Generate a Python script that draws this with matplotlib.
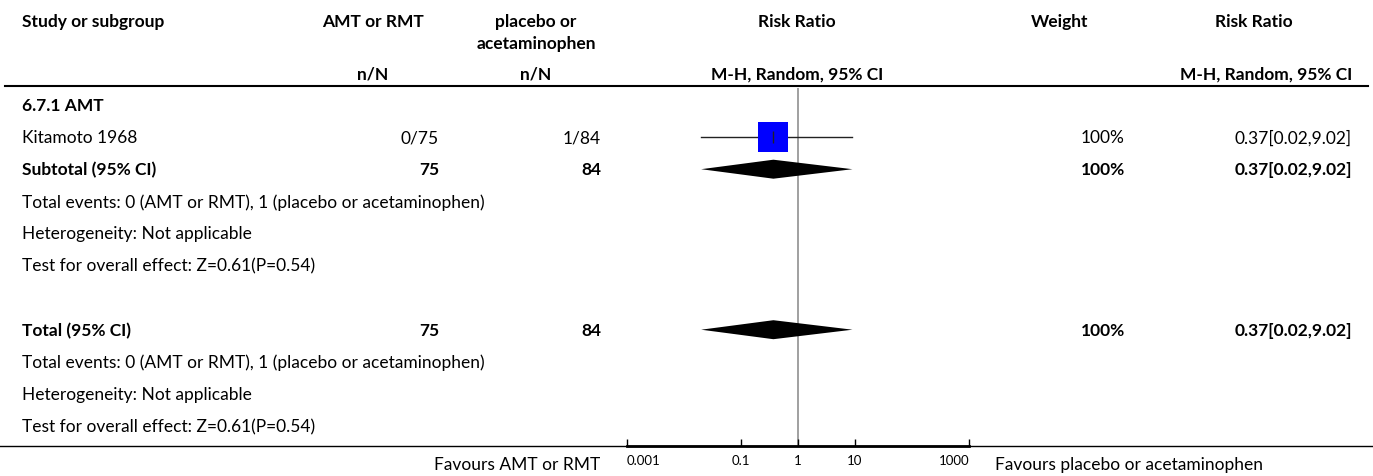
import matplotlib
matplotlib.use("Agg")
import matplotlib.pyplot as plt
import numpy as np

plt.rcParams['font.family'] = ['Lato', 'DejaVu Sans']

# study data
studies = ["Kitamoto 1968"]
events_amt = [0]
total_amt = [75]
events_ctl = [1]
total_ctl = [84]
rr = [0.37]
ci_low = [0.02]
ci_high = [9.02]
weights = [100]

# pooled results (subtotal and overall are the same single study)
pooled_rr = 0.37
pooled_low = 0.02
pooled_high = 9.02
pooled_weight = 100

subgroup = "6.7.1 AMT"
total_events_text = "Total events: 0 (AMT or RMT), 1 (placebo or acetaminophen)"
heterogeneity_text = "Heterogeneity: Not applicable"
overall_effect_text = "Test for overall effect: Z=0.61(P=0.54)"

tick_values = [0.001, 0.1, 1, 10, 1000]
tick_labels = ["0.001", "0.1", "1", "10", "1000"]
label_left = "Favours AMT or RMT"
label_right = "Favours placebo or acetaminophen"

W, H = 1373, 477
fig = plt.figure(figsize=(W / 100, H / 100), dpi=100)

# pixel-space axes for the table text and rules
ax = fig.add_axes([0, 0, 1, 1])
ax.set_xlim(0, W)
ax.set_ylim(H, 0)
ax.axis("off")

fs = 12.5
x_study = 22
x_amt_c, x_amt_r = 373, 439
x_ctl_c, x_ctl_r = 536, 601
x_plot_c = 797
x_w_c, x_w_r = 1060, 1125
x_rr_c, x_rr_r = 1254, 1352


def txt(x, y, s, ha="left", bold=False, size=fs):
    ax.text(x, y, s, ha=ha, va="center", fontsize=size,
            fontweight="bold" if bold else "normal", color="black")


# header
txt(x_study, 22, "Study or subgroup", bold=True)
txt(x_amt_c, 22, "AMT or RMT", ha="center", bold=True)
txt(x_ctl_c, 22, "placebo or", ha="center", bold=True)
txt(x_ctl_c, 44, "acetaminophen", ha="center", bold=True)
txt(x_plot_c, 22, "Risk Ratio", ha="center", bold=True)
txt(x_w_c, 22, "Weight", ha="center", bold=True)
txt(x_rr_c, 22, "Risk Ratio", ha="center", bold=True)
txt(x_amt_c, 75, "n/N", ha="center", bold=True)
txt(x_ctl_c, 75, "n/N", ha="center", bold=True)
txt(x_plot_c, 75, "M-H, Random, 95% CI", ha="center", bold=True)
txt(x_rr_r, 75, "M-H, Random, 95% CI", ha="right", bold=True)
ax.plot([5, 1368], [87, 87], color="black", lw=1.5)

row_h = 32.1
y0 = 106
rows = {}
labels_order = ["subgroup", "study", "subtotal", "te1", "het1", "z1", "blank",
                "total", "te2", "het2", "z2"]
for i, key in enumerate(labels_order):
    rows[key] = y0 + i * row_h

txt(x_study, rows["subgroup"], subgroup, bold=True)
for i, name in enumerate(studies):
    y = rows["study"] + i * row_h
    txt(x_study, y, name)
    txt(x_amt_r, y, f"{events_amt[i]}/{total_amt[i]}", ha="right")
    txt(x_ctl_r, y, f"{events_ctl[i]}/{total_ctl[i]}", ha="right")
    txt(x_w_r, y, f"{weights[i]}%", ha="right")
    txt(x_rr_r, y, f"{rr[i]:.2f}[{ci_low[i]:.2f},{ci_high[i]:.2f}]", ha="right")

for key, label in [("subtotal", "Subtotal (95% CI)"), ("total", "Total (95% CI)")]:
    y = rows[key]
    txt(x_study, y, label, bold=True)
    txt(x_amt_r, y, f"{sum(total_amt)}", ha="right", bold=True)
    txt(x_ctl_r, y, f"{sum(total_ctl)}", ha="right", bold=True)
    txt(x_w_r, y, f"{pooled_weight}%", ha="right", bold=True)
    txt(x_rr_r, y, f"{pooled_rr:.2f}[{pooled_low:.2f},{pooled_high:.2f}]",
        ha="right", bold=True)

for suffix in ["1", "2"]:
    txt(x_study, rows["te" + suffix], total_events_text)
    txt(x_study, rows["het" + suffix], heterogeneity_text)
    txt(x_study, rows["z" + suffix], overall_effect_text)

# bottom rule and footer labels
y_axis = 447
ax.plot([0, W], [y_axis, y_axis], color="black", lw=1.0)
txt(600, 465, label_left, ha="right")
txt(995, 465, label_right)

# forest plot axes, log scale
x_lo_px, x_hi_px = 627, 969
y_top_px = 89
fax = fig.add_axes([x_lo_px / W, (H - y_axis) / H,
                    (x_hi_px - x_lo_px) / W, (y_axis - y_top_px) / H])
fax.set_xscale("log")
fax.set_xlim(1e-3, 1e3)
fax.set_ylim(y_axis, y_top_px)
fax.patch.set_alpha(0)
for side in ["top", "left", "right"]:
    fax.spines[side].set_visible(False)
fax.spines["bottom"].set_linewidth(2)
fax.set_yticks([])
fax.set_xticks(tick_values)
fax.set_xticklabels(tick_labels)
fax.minorticks_off()
fax.tick_params(axis="x", direction="in", length=5, width=1, labelsize=9.5, pad=6)
# end labels sit inside the axis range
ticklabels = fax.get_xticklabels()
ticklabels[0].set_horizontalalignment("left")
ticklabels[-1].set_horizontalalignment("right")

fax.axvline(1, color="#999999", lw=1.3, zorder=1)

max_box = 22.3  # marker size in points for 100% weight
for i in range(len(studies)):
    y = rows["study"] + i * row_h
    fax.plot([ci_low[i], ci_high[i]], [y, y], color="#222222", lw=1.0, zorder=2)
    fax.plot(rr[i], y, marker="s", markersize=max_box * np.sqrt(weights[i] / 100),
             color="#0000ff", markeredgewidth=0, zorder=3)
    fax.plot(rr[i], y, marker="|", markersize=8, color="#222222", mew=1, zorder=4)

half_h = 9.5
for key in ["subtotal", "total"]:
    y = rows[key]
    fax.fill([pooled_low, pooled_rr, pooled_high, pooled_rr],
             [y, y - half_h, y, y + half_h], color="black", lw=0, zorder=3)

fig.savefig("out.png", dpi=100)
